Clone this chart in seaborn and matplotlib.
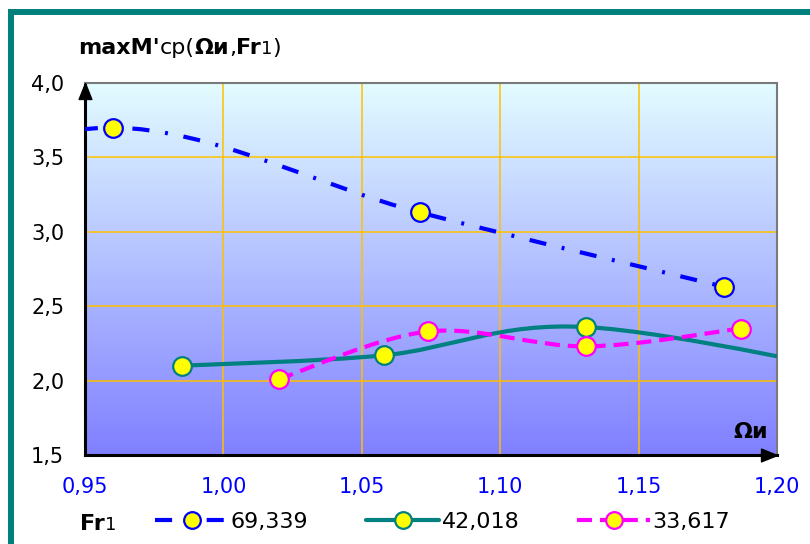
import matplotlib.pyplot as plt
import seaborn as sns
import numpy as np
from matplotlib.path import Path
from matplotlib.patches import PathPatch, Rectangle
from matplotlib.lines import Line2D
from matplotlib.ticker import FuncFormatter

# данные (первая/последняя точка частично за пределами осей)
omega_69 = [0.860, 0.960, 1.071, 1.181]
m_69 = [3.15, 3.70, 3.13, 2.63]
omega_42 = [0.985, 1.058, 1.131, 1.250]
m_42 = [2.10, 2.17, 2.36, 1.98]
omega_33 = [1.020, 1.074, 1.131, 1.187]
m_33 = [2.01, 2.33, 2.23, 2.35]
labels = ['69,339', '42,018', '33,617']
x_ticks = [0.95, 1.00, 1.05, 1.10, 1.15, 1.20]
y_ticks = [1.5, 2.0, 2.5, 3.0, 3.5, 4.0]

sns.set_theme(style='white')
plt.rcParams['font.family'] = ['DejaVu Sans']
plt.rcParams['text.color'] = 'black'
FS = 15
FS_T = 16


def smooth_path(xs, ys):
    """Кривая Безье через точки (сглаживание как в Excel)."""
    p = np.column_stack([xs, ys])
    n = len(p)
    verts = [p[0]]
    codes = [Path.MOVETO]
    for i in range(n - 1):
        p0 = p[max(i - 1, 0)]
        p3 = p[min(i + 2, n - 1)]
        c1 = p[i] + (p[i + 1] - p0) / 6
        c2 = p[i + 1] - (p3 - p[i]) / 6
        verts += [c1, c2, p[i + 1]]
        codes += [Path.CURVE4] * 3
    return Path(verts, codes)


def rich_text(x, y, pieces):
    """Текст из кусков разного начертания в одну строку."""
    prev = None
    for txt, w, fs in pieces:
        if prev is None:
            prev = fig.text(x, y, txt, fontsize=fs, fontweight=w,
                            va='baseline')
        else:
            prev = ax.annotate(txt, xy=(1, 0), xycoords=prev, fontsize=fs,
                               fontweight=w, va='bottom', ha='left',
                               annotation_clip=False)


fig = plt.figure(figsize=(8.1, 5.44), dpi=100)
fig.patch.set_facecolor('white')
fig.add_artist(Rectangle((11 / 810, -0.2), 1.3, 1.2 - 11.5 / 544, fill=False,
                         edgecolor='#00807c', lw=4.3, transform=fig.transFigure))

ax = fig.add_axes([85 / 810, 1 - 455 / 544, 692 / 810, 372 / 544])

# градиентная заливка области построения
grad = np.linspace(0, 1, 256).reshape(-1, 1)
top = np.array([226, 252, 255]) / 255
bottom = np.array([128, 128, 255]) / 255
img = top + (bottom - top) * grad[..., None]
ax.imshow(img, extent=[0, 1, 0, 1], transform=ax.transAxes, aspect='auto',
          zorder=-1)

series = [
    (omega_69, m_69, '#0000ff', (0, (4.1, 3.8, 0.7, 3.8))),
    (omega_42, m_42, '#008080', '-'),
    (omega_33, m_33, '#ff00ff', (0, (3.6, 1.9))),
]

handles = []
for (xs, ys, col, ls), lab in zip(series, labels):
    ax.add_patch(PathPatch(smooth_path(xs, ys), facecolor='none',
                           edgecolor=col, lw=3, linestyle=ls, zorder=3))
    sns.scatterplot(x=xs, y=ys, ax=ax, color='#ffff00', edgecolor=col,
                    s=180, linewidth=1.6, zorder=4)
    handles.append(Line2D([], [], color=col, lw=3, linestyle=ls, marker='o',
                          markersize=12, markerfacecolor='#ffff00',
                          markeredgecolor=col, markeredgewidth=1.6))

ax.set_xlim(0.95, 1.20)
ax.set_ylim(1.5, 4.0)
ax.set_xticks(x_ticks)
ax.set_yticks(y_ticks)
ax.xaxis.set_major_formatter(FuncFormatter(lambda v, p: f'{v:.2f}'.replace('.', ',')))
ax.yaxis.set_major_formatter(FuncFormatter(lambda v, p: f'{v:.1f}'.replace('.', ',')))
ax.tick_params(axis='x', length=0, pad=16, labelsize=FS, labelcolor='#0000ff')
ax.tick_params(axis='y', length=0, pad=15, labelsize=FS, labelcolor='black')
ax.grid(True, color='#ffc000', lw=1.1)
ax.set_axisbelow(True)

for s in ['top', 'right']:
    ax.spines[s].set_color('#7a7a7a')
    ax.spines[s].set_linewidth(1.5)
for s in ['left', 'bottom']:
    ax.spines[s].set_color('black')
    ax.spines[s].set_linewidth(2.2)

# стрелки на осях
ax.plot([0], [1], transform=ax.transAxes, clip_on=False, color='black',
        marker=[(0, 0), (-0.4, -1), (0.4, -1), (0, 0)], markersize=23, zorder=6)
ax.plot([1], [0], transform=ax.transAxes, clip_on=False, color='black',
        marker=[(0, 0), (-1, 0.4), (-1, -0.4), (0, 0)], markersize=23, zorder=6)

ax.text(0.987, 0.062, 'Ωи', transform=ax.transAxes, ha='right', va='center',
        fontsize=FS_T, fontweight='bold', zorder=6)

# заголовок
rich_text(78 / 810, 1 - 54 / 544,
          [("maxM'", 'bold', FS_T), ('ср(', 'normal', FS_T),
           ('Ωи', 'bold', FS_T), (',', 'normal', FS_T), ('Fr', 'bold', FS_T),
           ('1', 'normal', FS_T - 3), (')', 'normal', FS_T)])

# легенда
rich_text(80 / 810, 1 - 530 / 544,
          [('Fr', 'bold', FS_T), ('1', 'normal', FS_T - 3)])
fig.legend(handles, labels, loc='center left',
           bbox_to_anchor=(155 / 810, 1 - 522 / 544), ncol=3, frameon=False,
           fontsize=FS_T, handlelength=3.3, handletextpad=0.1,
           columnspacing=2.6, borderpad=0, borderaxespad=0)

fig.savefig('out.png', dpi=100)
